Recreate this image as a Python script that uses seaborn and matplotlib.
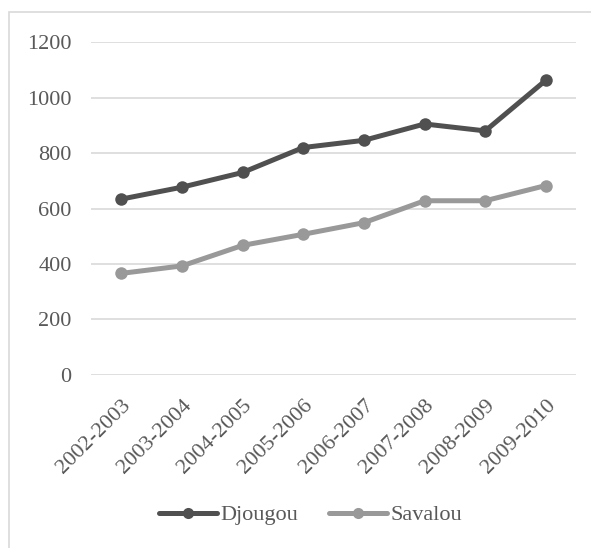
import matplotlib
matplotlib.use("Agg")
import matplotlib.pyplot as plt
from matplotlib.patches import Rectangle
import seaborn as sns
import pandas as pd

# Données
annees = ['2002-2003', '2003-2004', '2004-2005', '2005-2006',
          '2006-2007', '2007-2008', '2008-2009', '2009-2010']
djougou = [634, 677, 730, 820, 846, 905, 880, 1063]
savalou = [366, 393, 467, 507, 549, 628, 628, 683]
series = ['Djougou', 'Savalou']
yticks = [0, 200, 400, 600, 800, 1000, 1200]

df = pd.DataFrame({'Année': annees, 'Djougou': djougou, 'Savalou': savalou})
long = pd.melt(df, id_vars='Année', var_name='Commune', value_name='Valeur')

sns.set_style('white')
plt.rcParams['font.family'] = ['Liberation Serif', 'DejaVu Serif']
texte = '#595959'

fig = plt.figure(figsize=(5.91, 5.48), dpi=100)
ax = fig.add_axes([0.154, 0.316, 0.821, 0.607])

couleurs = {'Djougou': '#505050', 'Savalou': '#999999'}
sns.lineplot(data=long, x='Année', y='Valeur', hue='Commune', palette=couleurs,
             marker='o', markersize=9, markeredgewidth=0, linewidth=3.6,
             sort=False, ax=ax)

ax.set_ylim(0, 1200)
ax.set_xlim(-0.5, len(annees) - 0.5)
ax.set_yticks(yticks)
ax.yaxis.grid(True, color='#d9d9d9', linewidth=1.2)
ax.set_axisbelow(True)
for s in ax.spines.values():
    s.set_visible(False)
ax.set_xlabel('')
ax.set_ylabel('')
ax.tick_params(axis='y', length=0, pad=14, labelsize=16, labelcolor=texte)
ax.tick_params(axis='x', length=0, pad=15, labelsize=16, labelcolor=texte)
plt.setp(ax.get_xticklabels(), rotation=45, ha='right', rotation_mode='anchor')

leg = ax.legend(loc='center', bbox_to_anchor=(0.525, 0.06), bbox_transform=fig.transFigure,
                ncol=2, frameon=False, fontsize=16, handlelength=2.6, handletextpad=0.15,
                columnspacing=1.4, labelcolor=texte)
for h in leg.legend_handles:
    h.set_markersize(8)

# cadre de la zone du graphique
fig.patches.append(Rectangle((9 / 591, -0.1), 1.0, 1.1 - 12.5 / 548,
                             transform=fig.transFigure, fill=False,
                             edgecolor='#d9d9d9', linewidth=1.2))

fig.savefig('out.png', dpi=100)
